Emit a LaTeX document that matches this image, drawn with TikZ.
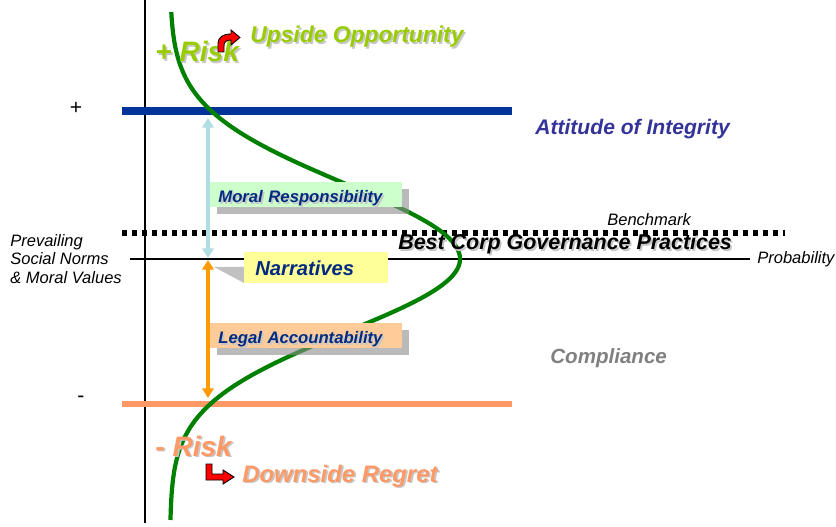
\documentclass[tikz,border=0pt]{standalone}
\usepackage{fontspec}
\setmainfont{Liberation Sans}
\usepackage{tikz}
\usetikzlibrary{positioning, arrows.meta, shadows}

\definecolor{upsidecol}{HTML}{99CC00}
\definecolor{downsidecol}{HTML}{FF9966}
\definecolor{integline}{HTML}{003399}
\definecolor{integtext}{HTML}{333399}
\definecolor{navytext}{HTML}{002A80}
\definecolor{curvegreen}{HTML}{008000}
\definecolor{moralfill}{HTML}{CCFFCC}
\definecolor{narrfill}{HTML}{FFFF99}
\definecolor{legalfill}{HTML}{FFCC99}
\definecolor{moralarrow}{HTML}{B0DCE4}
\definecolor{legalarrow}{HTML}{FF9900}

% text with a soft grey shadow
\newcommand{\sdw}[2]{\makebox[0pt][l]{\kern0.035cm\raisebox{-0.035cm}{\textcolor{black!22}{#2}}}\textcolor{#1}{#2}}

\begin{document}
\begin{tikzpicture}[x=0.02cm, y=-0.02cm,
  lbl/.style={anchor=base west, inner sep=0pt, font=\bfseries\itshape},
  plain/.style={anchor=base west, inner sep=0pt, font=\itshape\fontsize{9.4}{10.5}\selectfont, align=left},
  box/.style={anchor=north west, inner xsep=0.16cm, inner ysep=0pt, minimum height=0.5cm,
    text width=3.52cm, text height=0.3cm, text depth=0pt, align=left,
    font=\bfseries\itshape\fontsize{9.5}{11}\selectfont,
    drop shadow={shadow xshift=0.14cm, shadow yshift=-0.14cm, fill=black!45, opacity=0.6}},
  arr/.style={line width=2pt, {Triangle[length=5.5pt,width=6.5pt]}-{Triangle[length=5.5pt,width=6.5pt]}},
  redarrow/.style={fill=red, draw=black, line width=0.5pt}]
\useasboundingbox (0,0) rectangle (836,527);

% anchors of the arrows
\coordinate (integ) at (208,118);
\coordinate (norm) at (208,259);
\coordinate (compl) at (208,398);

% pointer shadow of the callout
\fill[black!35, opacity=0.7] (214,267) -- (244,267) -- (244,283) -- cycle;

% axes and levels
\draw[line width=1.7pt] (145,0) -- (145,523);
\draw[line width=1.7pt] (130,259) -- (750,259);
\draw[line width=2.85pt, dash pattern=on 2.85pt off 2.85pt] (122,233) -- (785,233);
\draw[integline, line width=4pt] (122,111) -- (512,111);
\draw[downsidecol, line width=3.4pt] (122,404) -- (512,404);

% arrows
\draw[arr, moralarrow, shorten <=0.02cm] (norm) -- (integ);
\draw[arr, legalarrow, shorten <=0.02cm] (norm) -- (compl);

% distribution
\draw[curvegreen, line width=2.4pt]
  plot[domain=12:259, samples=80] ({170+290*exp(-0.5*((\x-259)/75)*((\x-259)/75))}, \x)
  -- plot[domain=259:520, samples=80] ({170+290*exp(-0.5*((\x-259)/73)*((\x-259)/73))}, \x);

% boxes
\node[box, fill=moralfill] (moral) at (210,182) {\sdw{navytext}{Moral Responsibility}};
\node[box, fill=legalfill] (legal) at (210,323) {\sdw{navytext}{Legal Accountability}};
\node[anchor=north west, fill=narrfill, inner xsep=0.22cm, inner ysep=0pt, minimum height=0.62cm,
  text width=2.44cm, text height=0.3cm, text depth=0pt, align=left,
  font=\bfseries\itshape\fontsize{11.5}{13}\selectfont, text=navytext] (narr) at (244,252) {Narratives};

% labels
\node[lbl, font=\bfseries\itshape\fontsize{16}{18}\selectfont] (prisk) at (155,62) {\sdw{upsidecol}{+ Risk}};
\node[lbl, font=\bfseries\itshape\fontsize{13}{15}\selectfont] (upside) at (250,43) {\sdw{upsidecol}{Upside Opportunity}};
\node[lbl, font=\bfseries\itshape\fontsize{12}{14}\selectfont, text=integtext] (attitude) at (535,135) {Attitude of Integrity};
\node[lbl, font=\bfseries\itshape\fontsize{12.2}{14}\selectfont] (best) at (398,250) {\sdw{black}{Best Corp Governance Practices}};
\node[plain] (bench) at (607,226) {Benchmark};
\node[plain] (prob) at (757,263) {Probability};
\node[plain, anchor=north west] (norms) at (10,234) {Prevailing\\Social Norms\\\& Moral Values};
\node[lbl, font=\bfseries\itshape\fontsize{11.7}{14}\selectfont, text=gray] (compliance) at (550,363) {Compliance};
\node[lbl, font=\bfseries\itshape\fontsize{16}{18}\selectfont] (mrisk) at (155,456) {\sdw{downsidecol}{- Risk}};
\node[lbl, font=\bfseries\itshape\fontsize{13.6}{15}\selectfont] (downside) at (242,482) {\sdw{downsidecol}{Downside Regret}};
\node[anchor=base, inner sep=0pt, font=\fontsize{12}{14}\selectfont] (plus) at (76,115) {+};
\node[anchor=base, inner sep=0pt, font=\fontsize{12}{14}\selectfont] (minus) at (81,402) {-};

% red arrows
\draw[redarrow] (218,52) -- (218,44) .. controls (218,37) and (223,34) .. (231,34)
  -- (231,30) -- (240,37.5) -- (231,45) -- (231,40) .. controls (226,40) and (224,42) .. (224,46)
  -- (224,52) -- cycle;
\draw[redarrow] (206,464) -- (212,464) -- (212,474) -- (223,474) -- (223,470) -- (234,477)
  -- (223,484) -- (223,480) -- (206,480) -- cycle;
\end{tikzpicture}
\end{document}
